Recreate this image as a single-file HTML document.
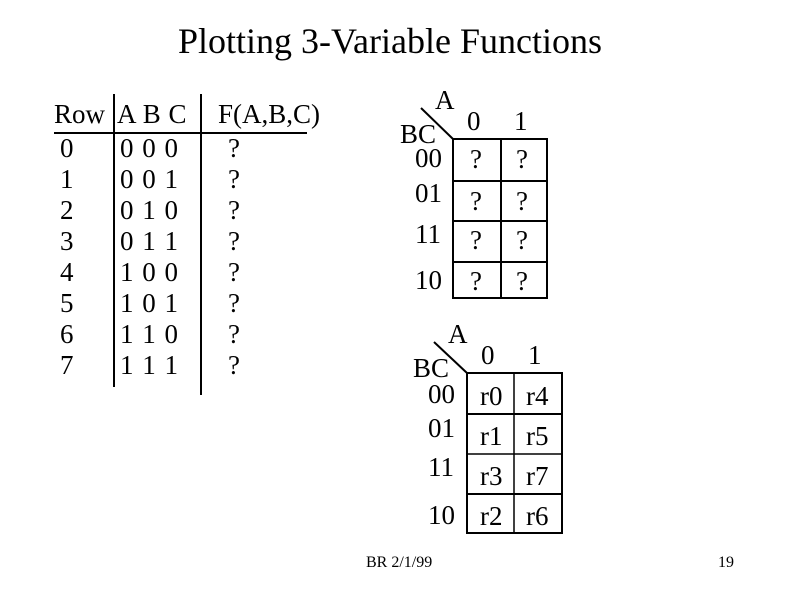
<!DOCTYPE html>
<html><head><meta charset="utf-8"><style>
html,body{margin:0;padding:0;background:#fff;}
svg{display:block;}
svg text{font-family:"Liberation Serif","Times New Roman",Times,serif;fill:#000;}
</style></head><body>
<svg width="800" height="600" xmlns="http://www.w3.org/2000/svg" font-family="'Liberation Serif', 'Times New Roman', serif">
<text x="390" y="53" font-size="36" text-anchor="middle">Plotting 3-Variable Functions</text>
<g font-size="27">
<text x="54" y="123">Row</text>
<text x="117" y="123" word-spacing="1">A B C</text>
<text x="218" y="123">F(A,B,C)</text>
<line x1="54" y1="133" x2="307" y2="133" stroke="#000" stroke-width="2"/>
<line x1="114" y1="94" x2="114" y2="387" stroke="#000" stroke-width="2"/>
<line x1="201" y1="94" x2="201" y2="395" stroke="#000" stroke-width="2"/>
<g>
<text x="60" y="157">0</text><text x="120" y="157" word-spacing="2">0 0 0</text><text x="228" y="157">?</text>
<text x="60" y="188">1</text><text x="120" y="188" word-spacing="2">0 0 1</text><text x="228" y="188">?</text>
<text x="60" y="219">2</text><text x="120" y="219" word-spacing="2">0 1 0</text><text x="228" y="219">?</text>
<text x="60" y="250">3</text><text x="120" y="250" word-spacing="2">0 1 1</text><text x="228" y="250">?</text>
<text x="60" y="281">4</text><text x="120" y="281" word-spacing="2">1 0 0</text><text x="228" y="281">?</text>
<text x="60" y="312">5</text><text x="120" y="312" word-spacing="2">1 0 1</text><text x="228" y="312">?</text>
<text x="60" y="343">6</text><text x="120" y="343" word-spacing="2">1 1 0</text><text x="228" y="343">?</text>
<text x="60" y="374">7</text><text x="120" y="374" word-spacing="2">1 1 1</text><text x="228" y="374">?</text>
</g>
<text x="435" y="109">A</text>
<text x="400" y="143">BC</text>
<text x="467" y="130">0</text>
<text x="514" y="130">1</text>
<line x1="421" y1="108" x2="453" y2="139" stroke="#000" stroke-width="2"/>
<rect x="453" y="139" width="94" height="159" fill="none" stroke="#000" stroke-width="2"/>
<line x1="501" y1="139" x2="501" y2="298" stroke="#000" stroke-width="2"/>
<line x1="453" y1="181" x2="547" y2="181" stroke="#000" stroke-width="2"/>
<line x1="453" y1="221" x2="547" y2="221" stroke="#000" stroke-width="2"/>
<line x1="453" y1="262" x2="547" y2="262" stroke="#000" stroke-width="2"/>
<text x="415" y="167">00</text><text x="415" y="202">01</text><text x="415" y="243">11</text><text x="415" y="289">10</text>
<text x="470" y="168">?</text><text x="516" y="168">?</text>
<text x="470" y="210">?</text><text x="516" y="210">?</text>
<text x="470" y="249">?</text><text x="516" y="249">?</text>
<text x="470" y="290">?</text><text x="516" y="290">?</text>
<text x="448" y="343">A</text>
<text x="413" y="377">BC</text>
<text x="481" y="364">0</text>
<text x="528" y="364">1</text>
<line x1="434" y1="342" x2="467" y2="373" stroke="#000" stroke-width="2"/>
<rect x="467" y="373" width="95" height="160" fill="none" stroke="#000" stroke-width="2"/>
<line x1="514" y1="373" x2="514" y2="533" stroke="#000" stroke-width="1.5"/>
<line x1="467" y1="414" x2="562" y2="414" stroke="#000" stroke-width="2"/>
<line x1="467" y1="454" x2="562" y2="454" stroke="#000" stroke-width="1.5"/>
<line x1="467" y1="494" x2="562" y2="494" stroke="#000" stroke-width="2"/>
<text x="428" y="403">00</text><text x="428" y="437">01</text><text x="428" y="476">11</text><text x="428" y="524">10</text>
<text x="480" y="405">r0</text><text x="526" y="405">r4</text>
<text x="480" y="445">r1</text><text x="526" y="445">r5</text>
<text x="480" y="485">r3</text><text x="526" y="485">r7</text>
<text x="480" y="525">r2</text><text x="526" y="525">r6</text>
</g>
<text x="366" y="567" font-size="16">BR 2/1/99</text>
<text x="718" y="567" font-size="16">19</text>
</svg>
</body></html>
